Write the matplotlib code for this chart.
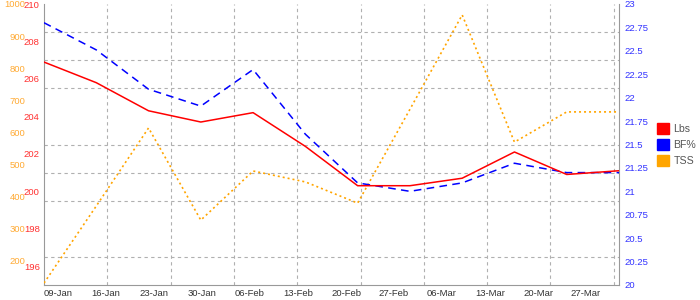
import numpy as np
import matplotlib
matplotlib.use("Agg")
import matplotlib.pyplot as plt
from matplotlib.patches import Patch

plt.rcParams["font.family"] = ["Liberation Sans", "DejaVu Sans"]

# weekly readings, one per point
lbs = [206.9, 205.8, 204.3, 203.7, 204.2, 202.4, 200.3, 200.3, 200.7, 202.1, 200.9, 201.1]
bf_pct = [22.80, 22.51, 22.09, 21.91, 22.30, 21.61, 21.09, 21.00, 21.09, 21.30, 21.20, 21.20]
tss = [131, 371, 614, 327, 480, 446, 380, 672, 966, 570, 664, 664]
date_labels = ["09-Jan", "16-Jan", "23-Jan", "30-Jan", "06-Feb", "13-Feb",
               "20-Feb", "27-Feb", "06-Mar", "13-Mar", "20-Mar", "27-Mar"]

RED = "#ff0000"
BLUE = "#0000ff"
ORANGE = "#ffa500"
GRID = "#b0b0b0"

W, H = 700, 300
left, right, top, bottom = 44, 619, 4, 285

fig = plt.figure(figsize=(W / 100, H / 100), dpi=100)
ax = fig.add_axes([left / W, 1 - bottom / H, (right - left) / W, (bottom - top) / H])

n = len(lbs)
x = np.arange(n)
ax.set_xlim(0, n - 1)
ax.set_ylim(195, 210)

# grid: 10 rows, columns every 63.3 px
span = right - left
ax.set_xticks([(n - 1) * 63.3 * k / span for k in range(1, 10)], minor=True)
ax.set_yticks(np.linspace(195, 210, 11)[1:], minor=True)
ax.grid(which="minor", color=GRID, linestyle=(0, (3, 3)), linewidth=0.8)
ax.grid(which="major", visible=False)

# date labels sit on their own spacing
ax.set_xticks([(n - 1) * (14 + 48 * i) / span for i in range(n)])
ax.set_xticklabels(date_labels)
ax.tick_params(axis="x", which="both", length=0, pad=3, labelsize=6.8, labelcolor="#333333")

ax.set_yticks(range(196, 211, 2))
ax.tick_params(axis="y", which="both", length=0, pad=3, labelsize=6.8, labelcolor="#ff3030")

for side in ("left", "bottom", "right"):
    ax.spines[side].set_color("#999999")
ax.spines["top"].set_visible(False)

ax_tss = ax.twinx()
ax_tss.set_ylim(125, 1000)
ax_tss.yaxis.set_ticks_position("left")
ax_tss.set_yticks(range(200, 1001, 100))
ax_tss.tick_params(axis="y", length=0, pad=13.5, labelsize=6.8, labelcolor="#ffaa33")
for s in ax_tss.spines.values():
    s.set_visible(False)
ax_tss.plot(x, tss, color=ORANGE, linestyle=(0, (1.2, 1.8)), linewidth=1.2)

ax_bf = ax.twinx()
ax_bf.set_ylim(20, 23)
ax_bf.set_yticks(np.arange(20, 23.01, 0.25))
ax_bf.set_yticklabels([f"{v:g}" for v in np.arange(20, 23.01, 0.25)])
ax_bf.tick_params(axis="y", length=0, pad=3.6, labelsize=6.8, labelcolor="#3333ff")
for s in ax_bf.spines.values():
    s.set_visible(False)
ax_bf.plot(x, bf_pct, color=BLUE, linestyle=(0, (5, 3.5)), linewidth=1.1)

# red line on top
ax_lbs = ax.twinx()
ax_lbs.set_ylim(195, 210)
ax_lbs.set_yticks([])
for s in ax_lbs.spines.values():
    s.set_visible(False)
ax_lbs.plot(x, lbs, color=RED, linewidth=1.1)

handles = [Patch(color=RED, label="Lbs"), Patch(color=BLUE, label="BF%"), Patch(color=ORANGE, label="TSS")]
fig.legend(handles=handles, loc="upper left", bbox_to_anchor=(655 / W, 1 - 121 / H),
           frameon=False, fontsize=7.6, labelcolor="#555555", handlelength=1.15, handleheight=1.15,
           handletextpad=0.4, labelspacing=0.5, borderpad=0.2, borderaxespad=0)

fig.savefig("out.png", dpi=100)
